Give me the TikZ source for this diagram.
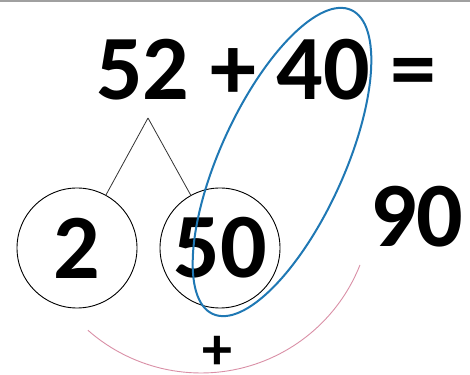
\documentclass[tikz,border=0pt]{standalone}
\usepackage{fontspec}
\setmainfont{Carlito}
\usetikzlibrary{positioning, calc}
\definecolor{ringblue}{HTML}{1F78B4}
\definecolor{arcpink}{HTML}{D98FA6}
\definecolor{framegray}{HTML}{A0A0A0}

\begin{document}
\begin{tikzpicture}[x=1pt, y=1pt,
  num/.style={font=\fontsize{92}{92}\selectfont\bfseries, inner sep=0pt},
  part/.style={draw, circle, line width=0.9pt, minimum size=120pt,
    inner sep=0pt, font=\fontsize{92}{92}\selectfont\bfseries},
  leg/.style={draw=black!80, line width=0.8pt}
]
  \useasboundingbox (0,0) rectangle (470,374);
  \draw[framegray, line width=2pt] (0,373) -- (470,373);

  % Sum
  \node[num, anchor=base west] (sum) at (96,274) {52 + 40 =};
  \coordinate (apex) at (148,256);

  % Parts
  \node[part] (two) at (77,126) {2};
  \node[part] (fifty) at (220,126) {50};
  \node[num, anchor=base west] (res) at (370,127) {90};

  % Split
  \draw[leg] (apex) -- (two);
  \draw[leg] (apex) -- (fifty);

  % Annotations
  \draw[ringblue, line width=2pt, rotate around={65.5:(282,212)}]
    (282,212) ellipse[x radius=167, y radius=62];
  \draw[arcpink, line width=0.9pt]
    (201,172) ++(228.6:171) arc[start angle=228.6, end angle=338.4, radius=171];
  \node[font=\fontsize{60}{60}\selectfont\bfseries, inner sep=0pt] (plus)
    at (217,21) {+};
\end{tikzpicture}
\end{document}
